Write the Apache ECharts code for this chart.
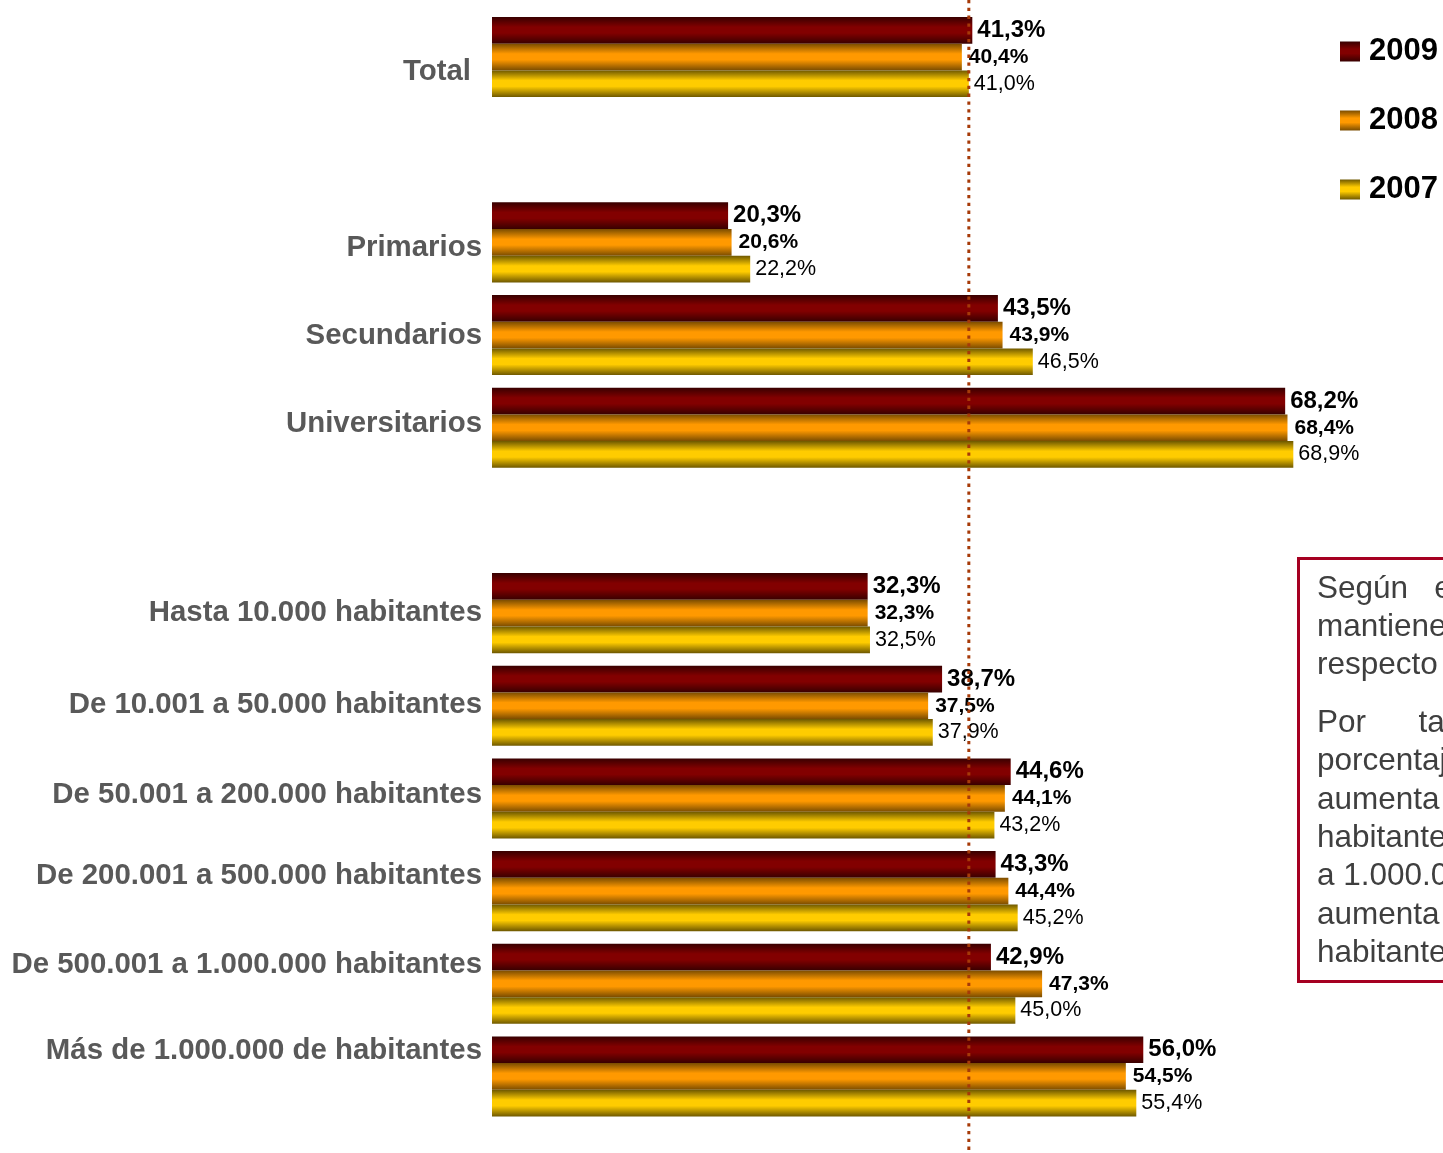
<!DOCTYPE html>
<html><head><meta charset="utf-8">
<script src="https://cdn.jsdelivr.net/npm/echarts@6/dist/echarts.min.js"></script>
<style>html,body{margin:0;padding:0;background:#fff;overflow:hidden}#c{width:1443px;height:1153px}</style>
</head><body><div id="c"></div>
<script>
// ---- data ----
const categories = ['Total', ' ', 'Primarios', 'Secundarios', 'Universitarios', '  ',
  'Hasta 10.000 habitantes', 'De 10.001 a 50.000 habitantes', 'De 50.001 a 200.000 habitantes',
  'De 200.001 a 500.000 habitantes', 'De 500.001 a 1.000.000 habitantes', 'Más de 1.000.000 de habitantes'];
const values2009 = [41.3, null, 20.3, 43.5, 68.2, null, 32.3, 38.7, 44.6, 43.3, 42.9, 56.0];
const values2008 = [40.4, null, 20.6, 43.9, 68.4, null, 32.3, 37.5, 44.1, 44.4, 47.3, 54.5];
const values2007 = [41.0, null, 22.2, 46.5, 68.9, null, 32.5, 37.9, 43.2, 45.2, 45.0, 55.4];
const seriesNames = ['2009', '2008', '2007'];
const referenceValue = 41.0;
const notePara1 = ['Según   el tamaño de hábitat, se', 'mantiene el mismo comportamiento', 'respecto a 2008.'];
const notePara2 = ['Por      tanto, se observa que el', 'porcentaje de usuarios de Internet', 'aumenta en los municipios de 500.001',
  'habitantes hasta 1.000.000 y de 500.001', 'a 1.000.000 habitantes, mientras que', 'aumenta en los de más de 1.000.000', 'habitantes.'];

// ---- styles ----
const FONT = '"Liberation Sans", Arial, sans-serif';
const labelShift = [15, 0, 6, 1, -4, 0, 0, -1, -4, -15, -19, -26];
function grad(edge, mid) {
  return new echarts.graphic.LinearGradient(0, 0, 0, 1, [
    { offset: 0, color: edge }, { offset: 0.38, color: mid }, { offset: 0.6, color: mid }, { offset: 1, color: edge }
  ]);
}
const colors = [grad('#380000', '#820000'), grad('#7a4c00', '#ff9900'), grad('#6e5800', '#ffcc00')];
const fmt = p => p.value == null ? '' : p.value.toFixed(1).replace('.', ',') + '%';
const labelStyles = [
  { fontSize: 24, fontWeight: 'bold', color: '#000' },
  { fontSize: 21, fontWeight: 'bold', color: '#000', backgroundColor: '#fff', padding: [1, 2] },
  { fontSize: 21.5, fontWeight: 'normal', color: '#000' }
];
const rich = {};
labelShift.forEach((d, i) => {
  const pad = d >= 0 ? [2 * d, i === 0 ? 11 : 0, 0, 0] : [0, 0, -2 * d, 0];
  rich['s' + i] = { fontSize: 29.4, fontWeight: 'bold', color: '#595959', fontFamily: FONT, padding: pad };
});

const chart = echarts.init(document.getElementById('c'), null, { renderer: 'canvas' });
const allValues = [values2009, values2008, values2007];
const option = {
  backgroundColor: '#fff',
  animation: false,
  textStyle: { fontFamily: FONT },
  grid: { left: 492, right: 20.6, top: 10.7, bottom: 30.2, containLabel: false, outerBoundsMode: 'none' },
  xAxis: { type: 'value', min: 0, max: 80, show: false },
  yAxis: {
    type: 'category', data: categories, inverse: true,
    axisLine: { show: false }, axisTick: { show: false }, splitLine: { show: false },
    axisLabel: {
      interval: 0, margin: 10, fontSize: 29.4, fontWeight: 'bold', color: '#595959', fontFamily: FONT,
      formatter: (v, i) => v.trim() === '' ? '' : '{s' + i + '|' + v + '}', rich: rich
    }
  },
  legend: {
    data: seriesNames, orient: 'vertical', left: 1340, top: 36, padding: 0,
    itemWidth: 20, itemHeight: 20, itemGap: 38, icon: 'rect',
    textStyle: { fontSize: 31, fontWeight: 'bold', color: '#000', fontFamily: FONT, padding: [0, 0, 0, 4] }
  },
  series: seriesNames.map((n, k) => ({
    name: n, type: 'bar', data: allValues[k], barWidth: 26.7, barGap: '0%',
    itemStyle: { color: colors[k] },
    label: Object.assign({ show: true, position: 'right', distance: 5, fontFamily: FONT, formatter: fmt }, labelStyles[k])
  })),
  graphic: []
};
chart.setOption(option);

// note box
const g = [];
g.push({ type: 'rect', z: 50, shape: { x: 1298.5, y: 558.5, width: 300, height: 423 },
  style: { fill: '#fff', stroke: '#A50021', lineWidth: 3 } });
let y = 589;
const noteStyle = t => ({ text: t, fontSize: 31.5, fontFamily: FONT, fill: '#3f3f3f', verticalAlign: 'middle' });
notePara1.forEach(t => { g.push({ type: 'text', z: 51, x: 1317, y: y, style: noteStyle(t) }); y += 38.3; });
y += 19.5;
notePara2.forEach(t => { g.push({ type: 'text', z: 51, x: 1317, y: y, style: noteStyle(t) }); y += 38.3; });

// reference dotted line through library scale
const xRef = chart.convertToPixel({ xAxisIndex: 0 }, referenceValue);
g.push({ type: 'line', z: 100, shape: { x1: xRef, y1: 0, x2: xRef, y2: 1153 },
  style: { stroke: '#A63A08', lineWidth: 3, lineDash: [3.3, 4.5] } });
chart.setOption({ graphic: g });
</script></body></html>
